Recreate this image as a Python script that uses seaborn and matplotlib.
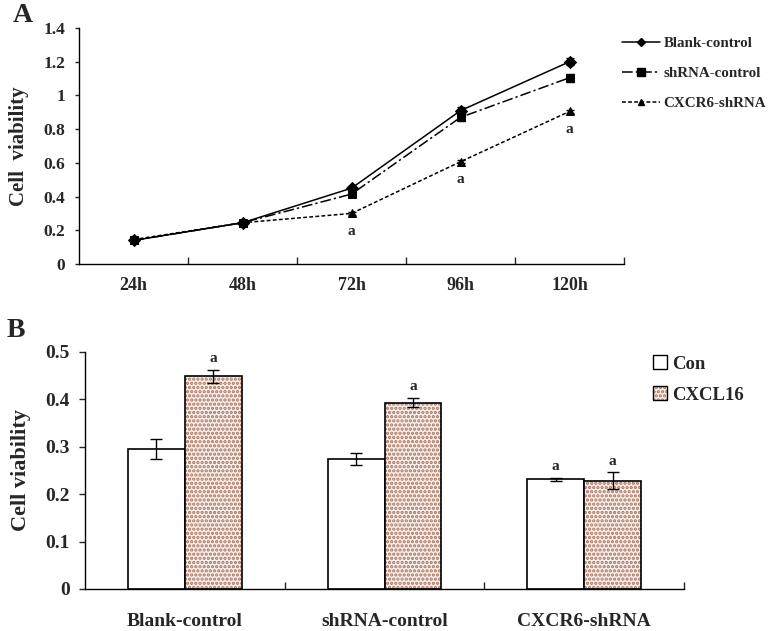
import numpy as np
import pandas as pd
import matplotlib
matplotlib.use("Agg")
import matplotlib.pyplot as plt
import seaborn as sns
from matplotlib.lines import Line2D
from matplotlib.patches import Patch
from matplotlib.colors import to_rgba

# panel A data
times = ["24h", "48h", "72h", "96h", "120h"]
groups = ["Blank-control", "shRNA-control", "CXCR6-shRNA"]
blank_vals = [0.14, 0.245, 0.45, 0.91, 1.20]
shrna_vals = [0.14, 0.245, 0.415, 0.87, 1.105]
cxcr6_vals = [0.145, 0.245, 0.30, 0.607, 0.905]
blank_err = [0.01, 0.01, 0.015, 0.02, 0.02]
shrna_err = [0.01, 0.01, 0.015, 0.02, 0.025]
cxcr6_err = [0.008, 0.008, 0.01, 0.01, 0.01]
sig_times = ["72h", "96h", "120h"]

# panel B data
b_groups = ["Blank-control", "shRNA-control", "CXCR6-shRNA"]
treatments = ["Con", "CXCL16"]
con_vals = [0.295, 0.274, 0.231]
cxcl_vals = [0.449, 0.393, 0.228]
con_err = [0.021, 0.013, 0.003]
cxcl_err = [0.014, 0.010, 0.018]
sig_b = {"Con": [False, False, True], "CXCL16": [True, True, True]}

sns.set_theme(style="white")
plt.rcParams["font.family"] = ["Liberation Serif", "DejaVu Serif"]
plt.rcParams["font.weight"] = "bold"
plt.rcParams["hatch.linewidth"] = 1.6

fig = plt.figure(figsize=(7.68, 6.31), dpi=100)
axA = fig.add_axes([0.103, 0.5816, 0.7095, 0.374])
axB = fig.add_axes([0.1107, 0.0666, 0.78, 0.3756])

# ---- panel A ----
vals = {"Blank-control": blank_vals, "shRNA-control": shrna_vals, "CXCR6-shRNA": cxcr6_vals}
errs = {"Blank-control": blank_err, "shRNA-control": shrna_err, "CXCR6-shRNA": cxcr6_err}
rows = []
for g in groups:
    for i, t in enumerate(times):
        rows.append({"pos": i, "time": t, "group": g, "val": vals[g][i], "err": errs[g][i]})
dfA = pd.DataFrame(rows)

dashes = {"Blank-control": "", "shRNA-control": (7, 2, 1.5, 2), "CXCR6-shRNA": (2.5, 1.5)}
markers = {"Blank-control": "D", "shRNA-control": "s", "CXCR6-shRNA": "^"}
msizes = {"Blank-control": 5, "shRNA-control": 7, "CXCR6-shRNA": 6}

sns.lineplot(data=dfA, x="pos", y="val", hue="group", style="group",
             palette=["black"] * 3, dashes=dashes, markers=markers,
             markersize=6, markeredgecolor="black", linewidth=1.1,
             legend=False, ax=axA)
for g in groups:
    d = dfA[dfA["group"] == g]
    axA.errorbar(d["pos"], d["val"], yerr=d["err"], fmt="none",
                 ecolor="black", elinewidth=1, capsize=3)
for t in sig_times:
    i = times.index(t)
    axA.annotate("a", (i, cxcr6_vals[i]), xytext=(0, -13), textcoords="offset points",
                 ha="center", va="center", fontsize=11, fontweight="bold")

axA.set_xlim(-0.5, 4.5)
axA.set_ylim(0, 1.4)
axA.set_yticks(np.arange(0, 1.41, 0.2))
axA.set_yticklabels(["0", "0.2", "0.4", "0.6", "0.8", "1", "1.2", "1.4"])
axA.set_xticks(range(len(times)))
axA.set_xticklabels(times)
axA.set_xticks(np.arange(0.5, 4.6, 1), minor=True)
axA.tick_params(axis="x", which="major", length=0, pad=9, labelsize=13)
axA.tick_params(axis="x", which="minor", direction="in", length=5, width=1, bottom=True)
axA.tick_params(axis="y", direction="out", length=3, width=1, left=True, labelsize=12.5, pad=7)
axA.set_xlabel("")
axA.set_ylabel("Cell  viability", fontsize=15, fontweight="bold", labelpad=10)
for s in ["top", "right"]:
    axA.spines[s].set_visible(False)
for s in ["left", "bottom"]:
    axA.spines[s].set_color("black")
    axA.spines[s].set_linewidth(1)

handlesA = [Line2D([], [], color="black", lw=1.1, linestyle=(0, dashes[g]) if dashes[g] else "-",
                   marker=markers[g], markersize=msizes[g] - 1) for g in groups]
fig.legend(handlesA, groups, loc="upper left", bbox_to_anchor=(0.81, 0.942), frameon=False,
           borderpad=0, borderaxespad=0,
           handlelength=2.5, handletextpad=0.25, labelspacing=1.1,
           prop={"size": 10.8, "weight": "bold"})
fig.text(0.030, 0.976, "A", fontsize=20, fontweight="bold", ha="center", va="center")

# ---- panel B ----
rowsB = []
for i, g in enumerate(b_groups):
    rowsB.append({"group": g, "treat": "Con", "val": con_vals[i], "err": con_err[i]})
    rowsB.append({"group": g, "treat": "CXCL16", "val": cxcl_vals[i], "err": cxcl_err[i]})
dfB = pd.DataFrame(rowsB)

fill_b = {"Con": "white", "CXCL16": "#fbeee8"}
sns.barplot(data=dfB, x="group", y="val", hue="treat", order=b_groups, hue_order=treatments,
            palette=fill_b, width=0.57, errorbar=None, edgecolor="black", linewidth=1.2,
            legend=False, ax=axB)
hatch_col = to_rgba("#a87462")
for c, t in zip(axB.containers, treatments):
    ev = dfB[dfB["treat"] == t]
    xs = [p.get_x() + p.get_width() / 2 for p in c.patches]
    axB.errorbar(xs, ev["val"], yerr=ev["err"], fmt="none", ecolor="black",
                 elinewidth=1, capsize=4)
    for p, x, v, e, s in zip(c.patches, xs, ev["val"], ev["err"], sig_b[t]):
        if t == "CXCL16":
            p.set_hatch("....")
            p._hatch_color = hatch_col
        if s:
            axB.annotate("a", (x, v + e), xytext=(0, 8), textcoords="offset points",
                         ha="center", va="center", fontsize=11, fontweight="bold")

axB.set_xlim(-0.5, 2.5)
axB.set_ylim(0, 0.5)
axB.set_yticks(np.arange(0, 0.51, 0.1))
axB.set_yticklabels(["0", "0.1", "0.2", "0.3", "0.4", "0.5"])
axB.set_xticks(np.arange(0.5, 2.6, 1), minor=True)
axB.tick_params(axis="x", which="major", length=0, pad=17, labelsize=14)
axB.tick_params(axis="x", which="minor", direction="in", length=5, width=1, bottom=True)
axB.tick_params(axis="y", direction="out", length=4, width=1, left=True, labelsize=14, pad=7)
axB.set_xlabel("")
axB.set_ylabel("Cell viability", fontsize=16, fontweight="bold", labelpad=10)
for s in ["top", "right"]:
    axB.spines[s].set_visible(False)
for s in ["left", "bottom"]:
    axB.spines[s].set_color("black")
    axB.spines[s].set_linewidth(1)

hB = [Patch(facecolor="white", edgecolor="black", linewidth=1),
      Patch(facecolor=fill_b["CXCL16"], edgecolor="black", linewidth=1, hatch="....")]
legB = fig.legend(hB, treatments, loc="upper left", bbox_to_anchor=(0.850, 0.437), frameon=False,
                  borderpad=0, borderaxespad=0,
                  handlelength=0.75, handleheight=0.75, handletextpad=0.3, labelspacing=0.72,
                  prop={"size": 13.5, "weight": "bold"})
for p in legB.get_patches()[1:]:
    p._hatch_color = hatch_col
fig.text(0.021, 0.477, "B", fontsize=20, fontweight="bold", ha="center", va="center")

fig.savefig("out.png", dpi=100)
